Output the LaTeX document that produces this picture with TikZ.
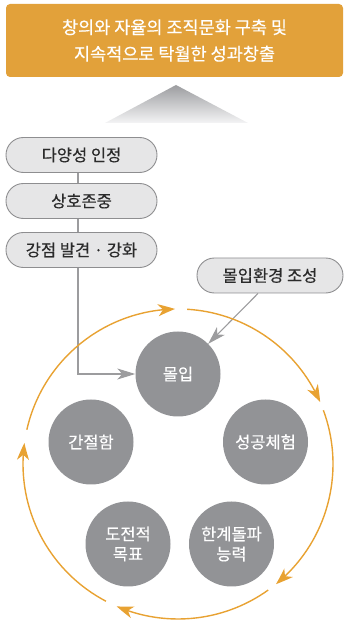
\documentclass[tikz,border=0pt]{standalone}
\usepackage{fontspec}
\setmainfont{Noto Sans CJK KR}[FakeBold=0.35,AutoFakeBold=0.35]
\usetikzlibrary{arrows.meta,bending,calc}
\definecolor{gold}{HTML}{E2A13A}
\definecolor{arcor}{HTML}{E8A232}
\definecolor{circgray}{HTML}{929396}
\definecolor{pillfill}{HTML}{E6E6E7}
\definecolor{pilledge}{HTML}{8E8E90}
\definecolor{linegray}{HTML}{9C9C9E}
\definecolor{txt}{HTML}{2B2B2B}
\definecolor{tritop}{HTML}{9C9DA0}
\definecolor{tribot}{HTML}{F4F4F5}
\begin{document}
\begin{tikzpicture}[x=1pt,y=1pt,
  pill/.style={draw=pilledge, line width=0.9pt, fill=pillfill, rounded corners=17.4pt,
    minimum width=151pt, minimum height=35pt, inner sep=0pt,
    font=\fontsize{16.5}{19}\selectfont\bfseries, text=txt},
  bub/.style={circle, fill=circgray, minimum size=85pt, inner sep=0pt, text=white,
    align=center, font=\fontsize{16.5}{20}\selectfont\bfseries},
  conn/.style={draw=linegray, line width=1.1pt},
  garrow/.style={-{Stealth[length=18pt,width=11pt,inset=5pt]}},
  oarc/.style={draw=arcor, line width=1.4pt, -{Stealth[length=17pt,width=12pt,inset=5pt,bend]}}]
\useasboundingbox (0,0) rectangle (344,620);
% goal box
\node[fill=gold, rounded corners=4pt, minimum width=337pt, minimum height=73pt,
  text=white, align=center, font=\fontsize{17.5}{26.5}\selectfont\bfseries] (goal) at (174.5,579.5)
  {창의와 자율의 조직문화 구축 및\\지속적으로 탁월한 성과창출};
% triangle
\shade[top color=tritop, bottom color=tribot] (105,497) -- (176,535) -- (248,497) -- cycle;
% pills
\node[pill] (p1) at (81.5,465) {다양성 인정};
\node[pill] (p2) at (81.5,419) {상호존중};
\node[pill] (p3) at (81.5,370) {강점 발견 · 강화};
\node[pill, minimum width=146pt] (env) at (270,344.5) {몰입환경 조성};
\draw[conn] ([xshift=-3.5pt]p1.south) -- ([xshift=-3.5pt]p2.north);
\draw[conn] ([xshift=-3.5pt]p2.south) -- ([xshift=-3.5pt]p3.north);
% circles
\node[bub] (c1) at (178,246) {몰입};
\node[bub] (c2) at (265.5,178) {성공체험};
\node[bub] (c3) at (231.5,76) {한계돌파\\능력};
\node[bub] (c4) at (128,76) {도전적\\목표};
\node[bub] (c5) at (91,178) {간절함};
\draw[conn,garrow] ([xshift=-3.5pt]p3.south) |- (c1.west);
\draw[conn,garrow] ([xshift=-12pt]env.south) -- (c1.45);
% orange cycle
\coordinate (O) at (178,156);
\draw[oarc] ($(O)+(86.6:155)$) arc[start angle=86.6, end angle=23.5, radius=155];
\draw[oarc] ($(O)+(20.3:155)$) arc[start angle=20.3, end angle=-50.8, radius=155];
\draw[oarc] ($(O)+(-54.4:155)$) arc[start angle=-54.4, end angle=-113.3, radius=155];
\draw[oarc] ($(O)+(-117.7:155)$) arc[start angle=-117.7, end angle=-187.8, radius=155];
\draw[oarc] ($(O)+(167.2:155)$) arc[start angle=167.2, end angle=91.1, radius=155];
\end{tikzpicture}
\end{document}
